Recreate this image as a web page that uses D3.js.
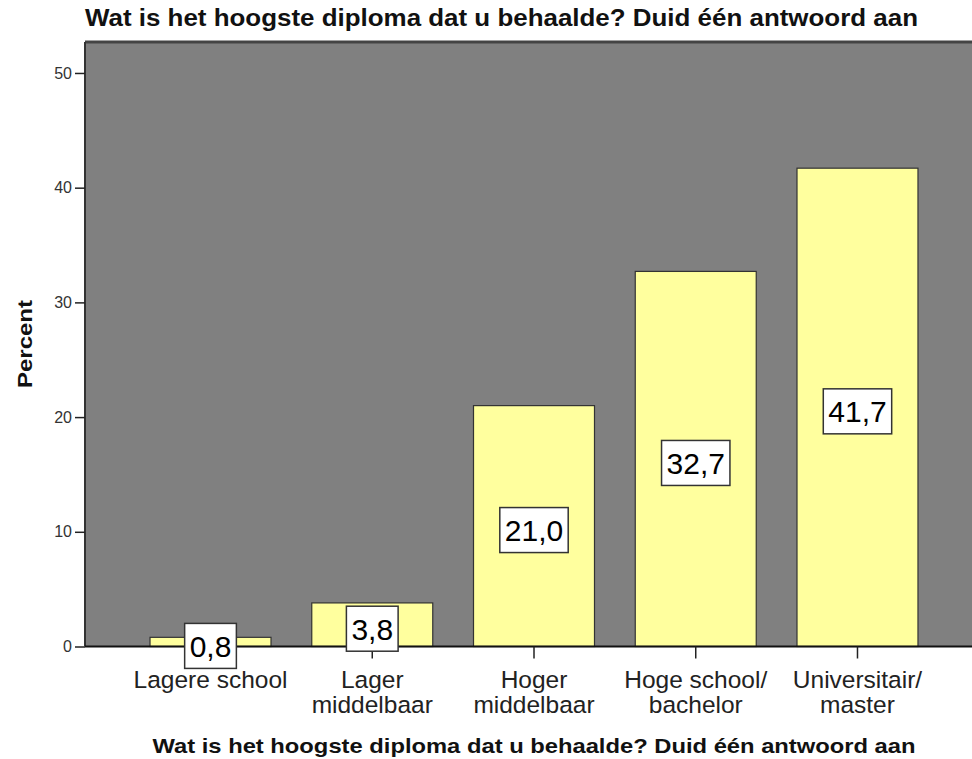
<!DOCTYPE html>
<html>
<head>
<meta charset="utf-8">
<script src="https://cdn.jsdelivr.net/npm/d3@7"></script>
<style>
  body { margin: 0; background: #fff; }
  text { font-family: "Liberation Sans", Arial, sans-serif; }
</style>
</head>
<body>
<svg id="chart" width="972" height="759"></svg>
<script>
// data
var categories = ["Lagere school", "Lager middelbaar", "Hoger middelbaar", "Hoge school/ bachelor", "Universitair/ master"];
var categoryLines = [["Lagere school"], ["Lager", "middelbaar"], ["Hoger", "middelbaar"], ["Hoge school/", "bachelor"], ["Universitair/", "master"]];
var percents = [0.8, 3.8, 21.0, 32.7, 41.7];
var valueLabels = ["0,8", "3,8", "21,0", "32,7", "41,7"];
var yTicks = [0, 10, 20, 30, 40, 50];
var titleText = "Wat is het hoogste diploma dat u behaalde? Duid één antwoord aan";

// layout
var PLOT_L = 85, PLOT_R = 983, PLOT_T = 42, PLOT_B = 646.5;
var Y_MAX = 52.7;

var svg = d3.select("#chart");

var x = d3.scaleBand()
	.domain(categories)
	.range([PLOT_L, PLOT_R])
	.paddingInner(0.252)
	.paddingOuter(0.402);

var y = d3.scaleLinear()
	.domain([0, Y_MAX])
	.range([PLOT_B, PLOT_T]);

// title
svg.append("text")
	.attr("x", PLOT_L)
	.attr("y", 26)
	.attr("font-size", 23)
	.attr("font-weight", "bold")
	.attr("textLength", 833)
	.attr("lengthAdjust", "spacingAndGlyphs")
	.attr("fill", "#111")
	.text(titleText);

// plot background
svg.append("rect")
	.attr("x", PLOT_L)
	.attr("y", PLOT_T)
	.attr("width", PLOT_R - PLOT_L)
	.attr("height", PLOT_B - PLOT_T)
	.attr("fill", "#808080");

// frame: top and left darker edges
svg.append("line")
	.attr("x1", PLOT_L).attr("x2", PLOT_R)
	.attr("y1", PLOT_T).attr("y2", PLOT_T)
	.attr("stroke", "#444").attr("stroke-width", 3);
svg.append("line")
	.attr("x1", PLOT_L).attr("x2", PLOT_L)
	.attr("y1", PLOT_T).attr("y2", PLOT_B)
	.attr("stroke", "#333").attr("stroke-width", 2);

// bars
svg.selectAll("rect.bar").data(percents).enter()
	.append("rect")
	.attr("class", "bar")
	.attr("x", function(d, i){ return x(categories[i]); })
	.attr("y", function(d){ return y(d); })
	.attr("width", x.bandwidth())
	.attr("height", function(d){ return y(0) - y(d); })
	.attr("fill", "#ffff9e")
	.attr("stroke", "#333")
	.attr("stroke-width", 1.2);

// y axis
var yAxis = svg.append("g")
	.attr("transform", "translate(" + PLOT_L + ",0)")
	.call(d3.axisLeft(y).tickValues(yTicks).tickSize(10).tickPadding(3).tickFormat(d3.format("d")));
yAxis.select(".domain").remove();
yAxis.selectAll(".tick line").attr("stroke", "#222").attr("stroke-width", 1.5);
yAxis.selectAll(".tick text")
	.attr("font-family", "Liberation Sans, Arial, sans-serif")
	.attr("font-size", 16)
	.attr("fill", "#333");

// x axis
var xAxis = svg.append("g")
	.attr("transform", "translate(0," + PLOT_B + ")")
	.call(d3.axisBottom(x).tickSize(12).tickFormat(""));
xAxis.select(".domain")
	.attr("d", "M" + PLOT_L + ",0H" + PLOT_R)
	.attr("stroke", "#111").attr("stroke-width", 2);
xAxis.selectAll(".tick line").attr("stroke", "#222").attr("stroke-width", 1.5);

// category labels
var catLabel = svg.selectAll("text.cat").data(categoryLines).enter()
	.append("text")
	.attr("class", "cat")
	.attr("text-anchor", "middle")
	.attr("font-size", 24.5)
	.attr("fill", "#222");
catLabel.selectAll("tspan").data(function(d, i){
		return d.map(function(line){ return {line: line, cx: x(categories[i]) + x.bandwidth() / 2}; });
	}).enter()
	.append("tspan")
	.attr("x", function(d){ return d.cx; })
	.attr("y", function(d, j){ return 688 + j * 25; })
	.text(function(d){ return d.line; });

// value labels (boxed)
var vl = svg.selectAll("g.vlabel").data(percents).enter()
	.append("g")
	.attr("class", "vlabel")
	.attr("transform", function(d, i){
		return "translate(" + (x(categories[i]) + x.bandwidth() / 2) + "," + (y(d / 2) + 4) + ")";
	});
vl.append("text")
	.attr("text-anchor", "middle")
	.attr("y", 11)
	.attr("font-size", 30)
	.attr("fill", "#000")
	.text(function(d, i){ return valueLabels[i]; });
vl.each(function(){
	var g = d3.select(this);
	var w = g.select("text").node().getComputedTextLength();
	g.insert("rect", "text")
		.attr("x", -w / 2 - 5)
		.attr("y", -22.5)
		.attr("width", w + 10)
		.attr("height", 45)
		.attr("fill", "#fff")
		.attr("stroke", "#333")
		.attr("stroke-width", 1.5);
});

// axis titles
svg.append("text")
	.attr("transform", "translate(32,344) rotate(-90)")
	.attr("text-anchor", "middle")
	.attr("font-family", "DejaVu Sans, sans-serif")
	.attr("font-size", 20)
	.attr("font-weight", "bold")
	.attr("textLength", 88)
	.attr("lengthAdjust", "spacingAndGlyphs")
	.attr("fill", "#111")
	.text("Percent");

svg.append("text")
	.attr("x", 534)
	.attr("y", 753)
	.attr("text-anchor", "middle")
	.attr("font-family", "DejaVu Sans, sans-serif")
	.attr("font-size", 21)
	.attr("font-weight", "bold")
	.attr("textLength", 763)
	.attr("lengthAdjust", "spacingAndGlyphs")
	.attr("fill", "#111")
	.text(titleText);
</script>
</body>
</html>
